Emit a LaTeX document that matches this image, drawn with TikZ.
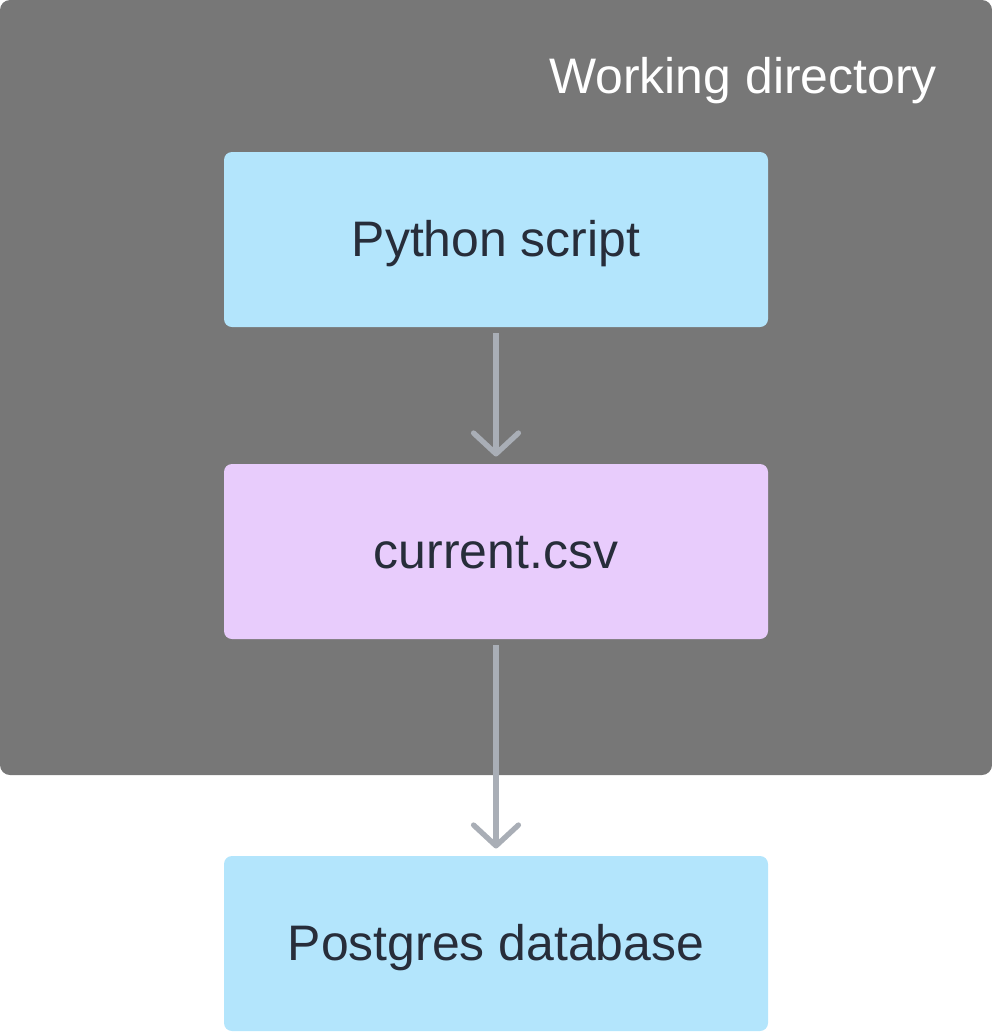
\documentclass[tikz,border=0pt]{standalone}
\usepackage{fontspec}
\setmainfont{Liberation Sans}
\usetikzlibrary{arrows.meta}
\definecolor{dirgray}{HTML}{777777}
\definecolor{boxblue}{HTML}{B3E5FC}
\definecolor{boxpurple}{HTML}{E8CCFC}
\definecolor{flowgray}{HTML}{A9AEB6}
\definecolor{inkdark}{HTML}{272D3A}
\tikzset{
  label font/.style={font=\fontsize{35.5}{41}\selectfont},
  stagebox/.style={label font, rounded corners=0.2cm, minimum width=13.6cm, minimum height=4.375cm, inner sep=0pt, text height=24.6pt, text depth=0pt, text=inkdark},
  flow/.style={draw=flowgray, line width=3.8pt, -{Straight Barb[length=0.52cm, width=1.12cm, round]}}
}
\begin{document}
\begin{tikzpicture}
  \useasboundingbox (0,0) rectangle (24.8,-25.8);
  \fill[dirgray, rounded corners=0.25cm] (0,0) rectangle (24.8,-19.375); % working directory
  \node[anchor=base east, text=white, label font, inner sep=0pt] (Workdir) at(23.425,-2.325){Working directory};
  \node[stagebox, fill=boxblue] (Script) at(12.4,-5.9875){Python script};
  \node[stagebox, fill=boxpurple] (Csv) at(12.4,-13.7875){current.csv};
  \node[stagebox, fill=boxblue] (Postgres) at(12.4,-23.5875){Postgres database};
  \draw[flow] ([yshift=-0.15cm]Script.south) -- ([yshift=0.18cm]Csv.north);
  \draw[flow] ([yshift=-0.15cm]Csv.south) -- ([yshift=0.18cm]Postgres.north);
\end{tikzpicture}
\end{document}
